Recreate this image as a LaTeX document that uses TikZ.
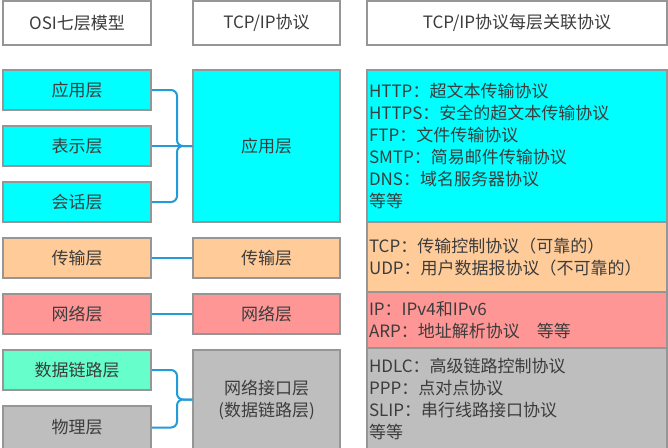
\documentclass[tikz,border=0pt]{standalone}
\usepackage{fontspec}
\setmainfont{Noto Sans CJK SC}
\usetikzlibrary{positioning}

\definecolor{linegray}{RGB}{150,150,150}
\definecolor{textgray}{RGB}{60,60,60}
\definecolor{appcyan}{RGB}{0,255,255}
\definecolor{transorange}{RGB}{255,204,153}
\definecolor{netred}{RGB}{255,150,150}
\definecolor{linkgreen}{RGB}{102,255,204}
\definecolor{physgray}{RGB}{190,190,190}
\definecolor{bracecol}{RGB}{35,155,215}

\begin{document}
\begin{tikzpicture}[x=1pt, y=-1pt,
  box/.style={draw=linegray, line width=1.5pt, text=textgray, inner sep=0pt,
    align=center, font=\fontsize{17}{22}\selectfont},
  osi/.style={box, minimum width=148pt, minimum height=40pt},
  tcp/.style={box, minimum width=147pt},
  proto/.style={box, align=left, text width=296pt, inner xsep=2pt,
    minimum height=#1},
  link/.style={draw=bracecol, line width=2pt, rounded corners=6pt}]
  \useasboundingbox (0,0) rectangle (668,447);
  % headers
  \node[osi, minimum height=44pt, fill=white] (h-osi) at (77,23) {OSI七层模型};
  \node[tcp, minimum height=44pt, fill=white] (h-tcp) at (266.5,23) {TCP/IP协议};
  \node[box, minimum width=300pt, minimum height=44pt, fill=white] (h-proto) at (517,23) {TCP/IP协议每层关联协议};
  % OSI seven layers (left column)
  \node[osi, fill=appcyan]     (o-app)   at (77,90)    {应用层};
  \node[osi, fill=appcyan]     (o-pres)  at (77,146)   {表示层};
  \node[osi, fill=appcyan]     (o-sess)  at (77,202)   {会话层};
  \node[osi, fill=transorange] (o-trans) at (77,258)   {传输层};
  \node[osi, fill=netred]      (o-net)   at (77,314)   {网络层};
  \node[osi, fill=linkgreen]   (o-dl)    at (77,370)   {数据链路层};
  \node[osi, fill=physgray, minimum height=43pt] (o-phys) at (77,427.5) {物理层};
  % TCP/IP layers (middle column)
  \node[tcp, fill=appcyan, minimum height=152pt]    (t-app)   at (266.5,146)   {应用层};
  \node[tcp, fill=transorange, minimum height=40pt] (t-trans) at (266.5,258)   {传输层};
  \node[tcp, fill=netred, minimum height=40pt]      (t-net)   at (266.5,314)   {网络层};
  \node[tcp, fill=physgray, minimum height=99pt]    (t-if)    at (266.5,399.5) {网络接口层\\(数据链路层)};
  % protocols of each layer (right column)
  \node[proto=152pt, fill=appcyan] (p-app) at (517,146) {%
    HTTP：超文本传输协议\\HTTPS：安全的超文本传输协议\\FTP：文件传输协议\\%
    SMTP：简易邮件传输协议\\DNS：域名服务器协议\\等等};
  \node[proto=70pt, fill=transorange] (p-trans) at (517,257) {%
    TCP：传输控制协议（可靠的）\\UDP：用户数据报协议（不可靠的）};
  \node[proto=56pt, fill=netred] (p-net) at (517,320) {%
    IP：IPv4和IPv6\\ARP：地址解析协议\hspace{1em}等等};
  \node[proto=101pt, fill=physgray] (p-if) at (517,398.5) {%
    HDLC：高级链路控制协议\\PPP：点对点协议\\SLIP：串行线路接口协议\\等等};
  % braces between the two models
  \draw[link] (o-app.east) -| (177,146) -- (t-app.west);
  \draw[link] (o-sess.east) -| (177,146) -- (t-app.west);
  \draw[link] (o-pres.east) -- (t-app.west);
  \draw[link] (o-trans.east) -- (t-trans.west);
  \draw[link] (o-net.east) -- (t-net.west);
  \draw[link] (o-dl.east) -| (177,399.5) -- (t-if.west);
  \draw[link] (o-phys.east) -| (177,399.5) -- (t-if.west);
\end{tikzpicture}
\end{document}
